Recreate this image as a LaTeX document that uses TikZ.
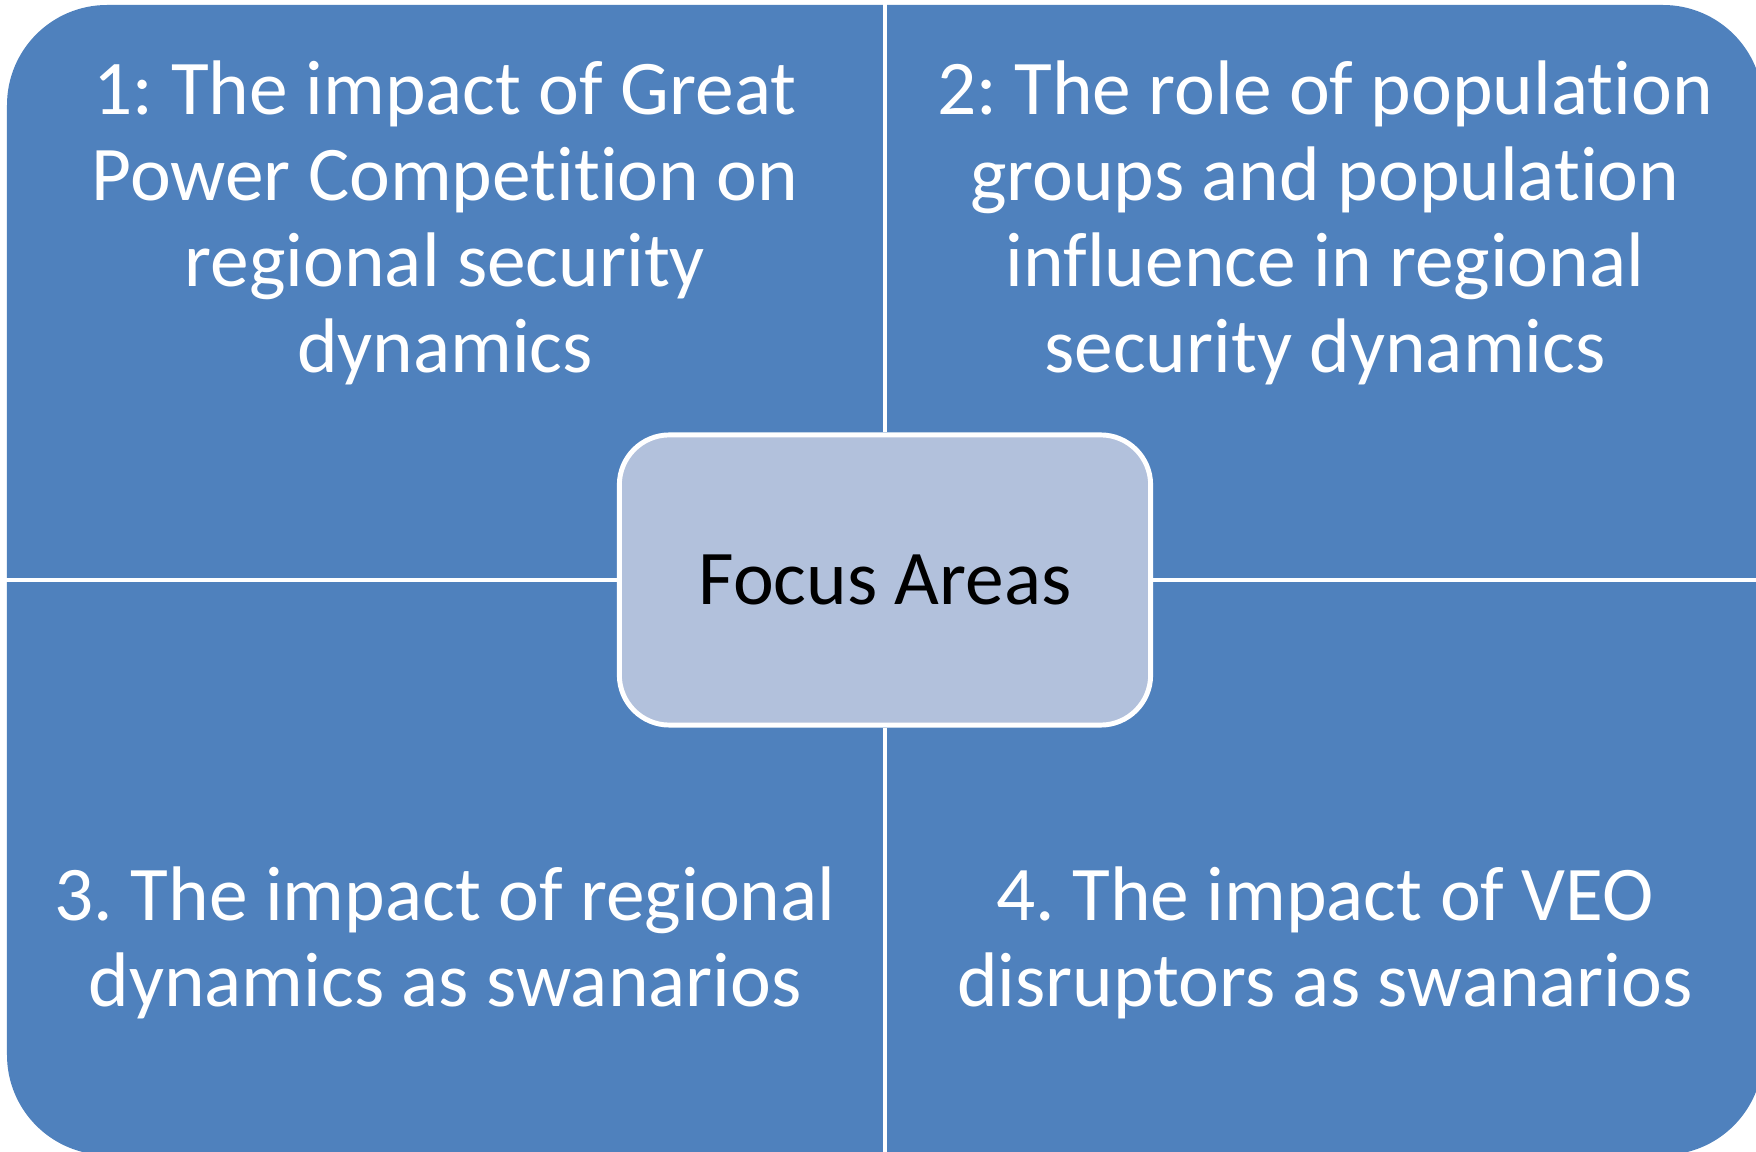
\documentclass[tikz,border=0pt]{standalone}
\usepackage{fontspec}
\setmainfont{Carlito}[Ligatures=NoCommon]
\definecolor{quadblue}{HTML}{4F81BD}
\definecolor{focusblue}{HTML}{B2C1DC}
\frenchspacing

\begin{document}
\begin{tikzpicture}[x=0.01cm,y=-0.01cm,
		quadtext/.style={text=white,align=center,font=\fontsize{22}{24.5}\selectfont},
		divider/.style={white,line width=1.4pt}]
				\useasboundingbox (0,0) rectangle (1756,1152);
				\fill[white] (0,0) rectangle (1756,1152);
				\clip (0,0) rectangle (1756,1152);
				\fill[quadblue,rounded corners=1cm] (7,5) rectangle (1763,1155);
				\node[draw=white,line width=1.4pt,fill=focusblue,rounded corners=0.5cm,
					minimum width=5.31cm,minimum height=2.9cm,
					font=\fontsize{22}{24.5}\selectfont] (focus) at (885,580) {Focus Areas};
				\coordinate (top) at (885,0);
				\coordinate (bottom) at (885,1152);
				\coordinate (left) at (0,580);
				\coordinate (right) at (1756,580);
				\draw[divider] (focus.north) -- (top);
				\draw[divider] (focus.south) -- (bottom);
				\draw[divider] (focus.west) -- (left);
				\draw[divider] (focus.east) -- (right);
				\node[quadtext] (q1) at (445,223) {1: The impact of Great\\Power Competition on\\regional security\\dynamics};
				\node[quadtext] (q2) at (1325,223) {2: The role of population\\groups and population\\influence in regional\\security dynamics};
				\node[quadtext] (q3) at (445,943) {3. The impact of regional\\dynamics as swanarios};
				\node[quadtext] (q4) at (1325,943) {4. The impact of VEO\\disruptors as swanarios};
			\end{tikzpicture}
\end{document}
